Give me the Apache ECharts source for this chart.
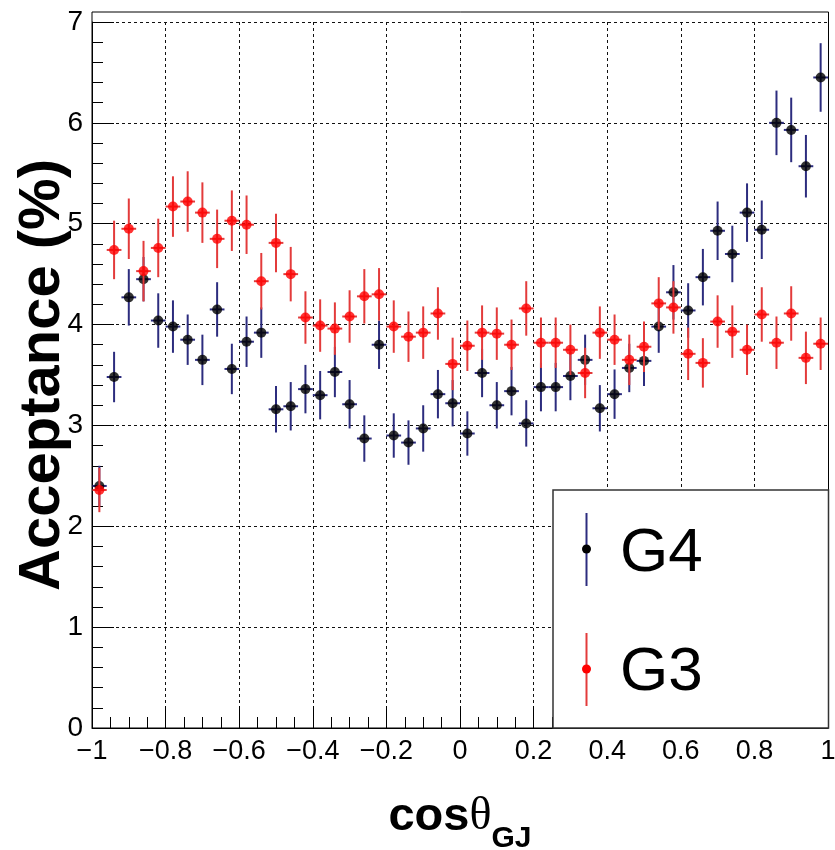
<!DOCTYPE html>
<html><head><meta charset="utf-8">
<script src="https://cdn.jsdelivr.net/npm/echarts@6/dist/echarts.min.js"></script>
<style>html,body{margin:0;padding:0;background:#fff}#c{width:835px;height:850px}</style>
</head><body><div id="c"></div>
<script>
// ---- data ----
const binCenters = [-0.98,-0.94,-0.90,-0.86,-0.82,-0.78,-0.74,-0.70,-0.66,-0.62,
  -0.58,-0.54,-0.50,-0.46,-0.42,-0.38,-0.34,-0.30,-0.26,-0.22,
  -0.18,-0.14,-0.10,-0.06,-0.02,0.02,0.06,0.10,0.14,0.18,
  0.22,0.26,0.30,0.34,0.38,0.42,0.46,0.50,0.54,0.58,
  0.62,0.66,0.70,0.74,0.78,0.82,0.86,0.90,0.94,0.98];
const binHalfWidth = 0.02;
const g4Values = [2.40,3.48,4.27,4.45,4.04,3.98,3.85,3.65,4.15,3.56,
  3.83,3.92,3.16,3.19,3.36,3.30,3.53,3.21,2.87,3.80,
  2.90,2.83,2.97,3.31,3.22,2.92,3.52,3.20,3.34,3.02,
  3.38,3.38,3.49,3.65,3.17,3.31,3.57,3.64,3.98,4.32,
  4.14,4.47,4.93,4.70,5.11,4.94,6.00,5.93,5.57,6.45];
const g4Errors = [0.20,0.25,0.28,0.22,0.27,0.26,0.25,0.25,0.27,0.25,
  0.25,0.25,0.23,0.24,0.24,0.24,0.25,0.24,0.23,0.24,
  0.22,0.22,0.23,0.24,0.23,0.22,0.24,0.23,0.24,0.23,
  0.24,0.24,0.24,0.25,0.23,0.245,0.24,0.25,0.26,0.27,
  0.27,0.28,0.29,0.28,0.29,0.29,0.32,0.32,0.31,0.34];
const g3Values = [2.36,4.74,4.95,4.53,4.76,5.17,5.22,5.11,4.85,5.03,
  4.99,4.43,4.81,4.50,4.07,3.99,3.96,4.08,4.28,4.30,
  3.98,3.88,3.92,4.11,3.61,3.79,3.92,3.91,3.80,4.16,
  3.82,3.82,3.75,3.52,3.92,3.85,3.65,3.78,4.21,4.17,
  3.71,3.62,4.03,3.93,3.75,4.10,3.82,4.11,3.67,3.81];
const g3Errors = [0.22,0.29,0.30,0.30,0.29,0.30,0.30,0.30,0.29,0.30,
  0.29,0.28,0.29,0.27,0.26,0.26,0.26,0.26,0.27,0.26,
  0.26,0.25,0.26,0.26,0.26,0.25,0.27,0.26,0.25,0.27,
  0.25,0.25,0.25,0.25,0.26,0.25,0.25,0.25,0.26,0.26,
  0.26,0.245,0.26,0.26,0.25,0.27,0.26,0.27,0.26,0.26];
const seriesNames = ['G4','G3'];
const xTitle = {main:'cos', greek:'\u03b8', sub:'GJ'};
const yTitle = 'Acceptance (%)';

// ---- styles ----
const FONT = 'Liberation Sans, Arial, sans-serif';
const g4Bar = '#2c2c7e', g4Mark = '#000000';
const g3Bar = '#e33b3b', g3Mark = '#ff0000';

function errData(vals, errs){ return binCenters.map((x,i)=>[x, vals[i], errs[i]]); }
function ptData(vals){ return binCenters.map((x,i)=>[x, vals[i]]); }
function errRender(color){
  return function(params, api){
    const x = api.value(0), y = api.value(1), e = api.value(2);
    const t = api.coord([x, y + e]), b = api.coord([x, y - e]);
    const l = api.coord([x - binHalfWidth, y]), r = api.coord([x + binHalfWidth, y]);
    return {type:'group', children:[
      {type:'line', shape:{x1:t[0],y1:t[1],x2:b[0],y2:b[1]}, style:{stroke:color, lineWidth:2}},
      {type:'line', shape:{x1:l[0],y1:l[1],x2:r[0],y2:r[1]}, style:{stroke:color, lineWidth:2}}
    ]};
  };
}

const chart = echarts.init(document.getElementById('c'), null, {renderer:'canvas'});
const gridL = 92, gridR = 7, gridT = 22, gridB = 122;
const option = {
  animation:false,
  backgroundColor:'#fff',
  grid:{left:gridL, right:gridR, top:gridT, bottom:gridB, containLabel:false, outerBoundsMode:'none'},
  xAxis:{
    type:'value', min:-1, max:1, interval:0.2,
    axisLine:{show:true, onZero:false, lineStyle:{color:'#000', width:1}},
    axisTick:{show:true, inside:true, length:22, lineStyle:{color:'#000', width:1}},
    minorTick:{show:true, splitNumber:4, length:11, lineStyle:{color:'#000', width:1}},
    splitLine:{show:true, lineStyle:{color:'#111', type:[3,3], width:1}},
    axisLabel:{fontFamily:FONT, fontSize:27, color:'#000', margin:10,
      formatter:v=>{ if(Math.abs(v)<1e-9) return '0'; return String(Math.round(v*10)/10).replace('-','\u2212'); }},
    name:'{a|'+xTitle.main+'}{b|'+xTitle.greek+'}{c|'+xTitle.sub+'}',
    nameLocation:'middle', nameGap:66, nameMoveOverlap:false,
    nameTextStyle:{rich:{
      a:{fontFamily:FONT, fontWeight:'bold', fontSize:47, color:'#000', lineHeight:50, verticalAlign:'top'},
      b:{fontFamily:'Liberation Serif, serif', fontSize:46, color:'#000', lineHeight:50, verticalAlign:'top'},
      c:{fontFamily:FONT, fontWeight:'bold', fontSize:30, color:'#000', lineHeight:30, padding:[30,0,0,0], verticalAlign:'top'}
    }}
  },
  yAxis:{
    type:'value', min:0, max:7, interval:1,
    axisLine:{show:true, onZero:false, lineStyle:{color:'#000', width:1}},
    axisTick:{show:true, inside:true, length:22, lineStyle:{color:'#000', width:1}},
    minorTick:{show:true, splitNumber:5, length:11, lineStyle:{color:'#000', width:1}},
    splitLine:{show:true, lineStyle:{color:'#111', type:[3,3], width:1}},
    axisLabel:{fontFamily:FONT, fontSize:28, color:'#000', margin:9},
    name:yTitle, nameLocation:'middle', nameRotate:90, nameGap:20, nameMoveOverlap:false,
    nameTextStyle:{fontFamily:FONT, fontWeight:'bold', fontSize:58, color:'#000'}
  },
  series:[
    {name:seriesNames[0]+' err', type:'custom', renderItem:errRender(g4Bar), data:errData(g4Values,g4Errors), encode:{x:0,y:1}, z:2, silent:true},
    {name:seriesNames[0], type:'scatter', data:ptData(g4Values), symbol:'circle', symbolSize:10, itemStyle:{color:g4Mark}, z:3},
    {name:seriesNames[1]+' err', type:'custom', renderItem:errRender(g3Bar), data:errData(g3Values,g3Errors), encode:{x:0,y:1}, z:4, silent:true},
    {name:seriesNames[1], type:'scatter', data:ptData(g3Values), symbol:'circle', symbolSize:10, itemStyle:{color:g3Mark}, z:5}
  ],
  graphic:[
    // plot frame (extends slightly above y=7, as in the reference)
    {type:'rect', z:50, silent:true, shape:{x:92, y:12, width:736.5, height:716}, style:{fill:null, stroke:'#000', lineWidth:1}},
    // legend box
    {type:'rect', z:60, shape:{x:553, y:490, width:275.5, height:238}, style:{fill:'#fff', stroke:'#333', lineWidth:1.5}},
    {type:'line', z:61, shape:{x1:586.5,y1:513,x2:586.5,y2:586}, style:{stroke:g4Bar, lineWidth:2}},
    {type:'circle', z:62, shape:{cx:586.5, cy:549, r:4.5}, style:{fill:g4Mark}},
    {type:'text', z:62, style:{x:620, y:554, text:seriesNames[0], font:'62px '+FONT, fill:'#000', textVerticalAlign:'middle'}},
    {type:'line', z:61, shape:{x1:586.5,y1:633,x2:586.5,y2:706}, style:{stroke:g3Bar, lineWidth:2}},
    {type:'circle', z:62, shape:{cx:586.5, cy:669, r:4.5}, style:{fill:g3Mark}},
    {type:'text', z:62, style:{x:620, y:673, text:seriesNames[1], font:'62px '+FONT, fill:'#000', textVerticalAlign:'middle'}}
  ]
};
chart.setOption(option);
</script>
</body></html>
